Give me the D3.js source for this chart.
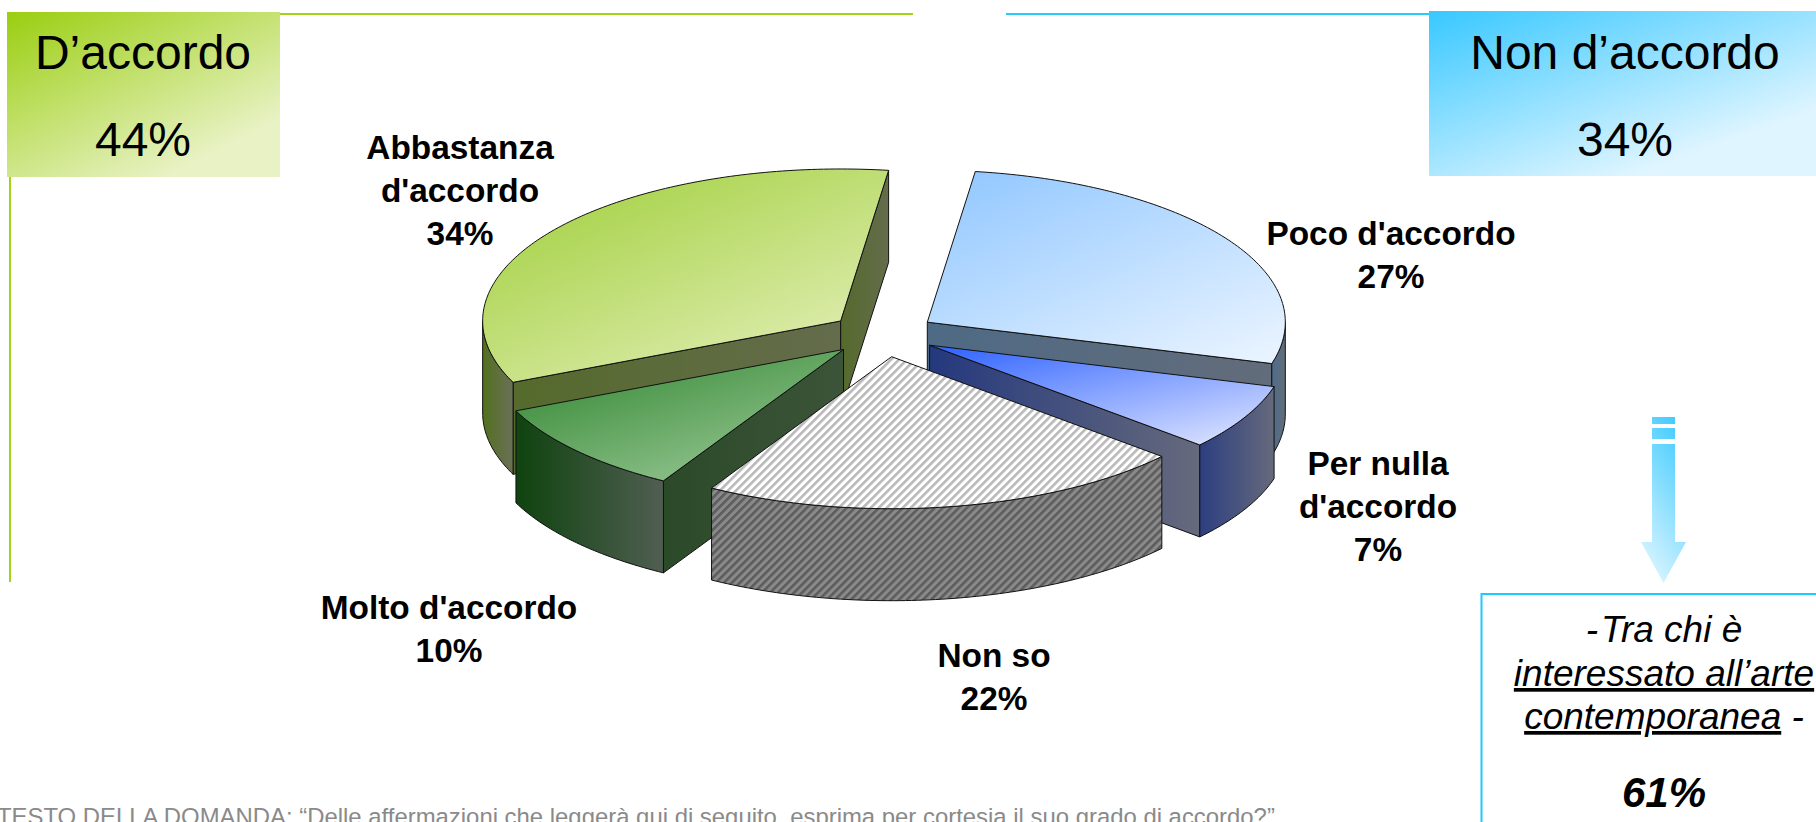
<!DOCTYPE html>
<html><head><meta charset="utf-8">
<script src="https://cdn.jsdelivr.net/npm/d3@7"></script>
<style>
html,body{margin:0;padding:0;background:#fff;overflow:hidden}
svg{display:block}
text{font-family:"Liberation Sans",Arial,sans-serif;fill:#000}
</style></head><body>
<svg id="c" width="1816" height="822"></svg>
<script>
const categories = ["Poco d'accordo","Per nulla d'accordo","Non so","Molto d'accordo","Abbastanza d'accordo"];
const values = [27.25,7,22,10,33.75];
const labelLines = [["Poco d'accordo"],["Per nulla","d'accordo"],["Non so"],["Molto d'accordo"],["Abbastanza","d'accordo"]];
const labelAnchors = [[1391,245],[1378,475],[994,667],[449,619],[460,159]];
const topColors = [["#93c8ff","#e8f3ff"],["#3567ff","#dde4ff"],null,["#2f852f","#a0cc9c"],["#a0cf3c","#e6f0bd"]];
const rimColors = [["#4f6d8c","#626c7a"],["#2c3e80","#666a7c"],null,["#0f430f","#505e52"],["#53701e","#6a7058"]];
const radialColors = [["#4f6a85","#626c7a"],["#24387e","#666a7c"],null,["#2b4a28","#3c5439"],["#556a2c","#646c4c"]];
const headerLeft = ["D’accordo","44%"];
const headerRight = ["Non d’accordo","34%"];

const CX=883, CY=334.5, RX=358, RY=152, DEPTH=92, EXPLODE=0.148;
const svg=d3.select("#c");
const defs=svg.append("defs");

function grad(id,c0,c1,x1,y1,x2,y2){
  const g=defs.append("linearGradient").attr("id",id).attr("x1",x1).attr("y1",y1).attr("x2",x2).attr("y2",y2);
  g.append("stop").attr("offset",0).attr("stop-color",c0);
  g.append("stop").attr("offset",1).attr("stop-color",c1);
  return `url(#${id})`;
}
function hatch(id,bg,fg){
  const p=defs.append("pattern").attr("id",id).attr("patternUnits","userSpaceOnUse")
    .attr("width",5.66).attr("height",5.66).attr("patternTransform","rotate(45)");
  p.append("rect").attr("width",5.66).attr("height",5.66).attr("fill",bg);
  p.append("rect").attr("width",2.6).attr("height",5.66).attr("fill",fg);
  return `url(#${id})`;
}

// frames and header boxes
svg.append("rect").attr("x",277).attr("y",13).attr("width",636).attr("height",2).attr("fill","#a3d316");
svg.append("rect").attr("x",9).attr("y",173).attr("width",2).attr("height",409).attr("fill","#a3d316");
svg.append("rect").attr("x",1006).attr("y",13).attr("width",425).attr("height",2).attr("fill","#28ccfb");
svg.append("rect").attr("x",7).attr("y",12).attr("width",273).attr("height",165)
  .attr("fill",grad("gl","#9ace10","#e8f2c4","0%","0%","72%","88%"));
svg.append("rect").attr("x",1429).attr("y",11).attr("width",387).attr("height",165)
  .attr("fill",grad("gr","#38c8ff","#dff5ff","0%","0%","70%","85%"));

function headerText(lines,x){
  svg.append("text").attr("x",x).attr("y",69).attr("text-anchor","middle").attr("font-size",48).text(lines[0]);
  svg.append("text").attr("x",x).attr("y",156).attr("text-anchor","middle").attr("font-size",48).text(lines[1]);
}
headerText(headerLeft,143);
headerText(headerRight,1625);

// pie
const pie=d3.pie().sort(null).startAngle(7.7*Math.PI/180).endAngle((360+7.7)*Math.PI/180);
const arcs=pie(values).map((d,i)=>({...d,i,t0:d.startAngle-Math.PI/2,t1:d.endAngle-Math.PI/2}));
arcs.forEach(d=>{
  const m=(d.t0+d.t1)/2;
  d.mid=m;
  d.cx=CX+EXPLODE*RX*Math.cos(m);
  d.cy=CY+EXPLODE*RY*Math.sin(m);
});
const line=d3.line();
const xAt=(d,t)=>d.cx+RX*Math.cos(t);
const yAt=(d,t)=>d.cy+RY*Math.sin(t);
const sample=(a,b)=>{const n=Math.max(2,Math.ceil(Math.abs(b-a)*60));return d3.range(n+1).map(k=>a+(b-a)*k/n);};

const hatchTop=hatch("ht","#ffffff","#b8b8b8");
const hatchWall=hatch("hw","#8a8a8a","#5c5c5c");

arcs.slice().sort((a,b)=>Math.sin(a.mid)-Math.sin(b.mid)).forEach(d=>{
  const g=svg.append("g").attr("class","slice").attr("data-cat",categories[d.i]);
  const tc=topColors[d.i];
  const rf=rimColors[d.i]?grad("rim"+d.i,rimColors[d.i][0],rimColors[d.i][1],"0%","0%","100%","0%"):hatchWall;
  const wf=radialColors[d.i]?grad("rad"+d.i,radialColors[d.i][0],radialColors[d.i][1],"0%","0%","100%","0%"):hatchWall;
  const radial=t=>{
    const pts=[[d.cx,d.cy],[xAt(d,t),yAt(d,t)],[xAt(d,t),yAt(d,t)+DEPTH],[d.cx,d.cy+DEPTH]];
    g.append("path").attr("d",line(pts)+"Z").attr("fill",wf).attr("stroke","#111").attr("stroke-width",1);
  };
  if(Math.cos(d.t0)<0) radial(d.t0);
  if(Math.cos(d.t1)>0) radial(d.t1);
  // outer wall: only the front half of the rim is in view
  const a=Math.max(d.t0,0), b=Math.min(d.t1,Math.PI);
  if(b>a){
    const s=sample(a,b);
    const pts=s.map(t=>[xAt(d,t),yAt(d,t)]).concat(s.slice().reverse().map(t=>[xAt(d,t),yAt(d,t)+DEPTH]));
    g.append("path").attr("d",line(pts)+"Z").attr("fill",rf).attr("stroke","#111").attr("stroke-width",1);
  }
  // top face
  const tf=tc?grad("tf"+d.i,tc[0],tc[1],"10%","0%","90%","100%"):hatchTop;
  const s=sample(d.t0,d.t1);
  const pts=[[d.cx,d.cy]].concat(s.map(t=>[xAt(d,t),yAt(d,t)]));
  g.append("path").attr("d",line(pts)+"Z").attr("fill",tf).attr("stroke","#111").attr("stroke-width",1).attr("stroke-linejoin","round");
});

// data labels
const fmt=v=>Math.round(v)+"%";
arcs.forEach(d=>{
  const [ax,ay]=labelAnchors[d.i];
  const lines=labelLines[d.i].concat(fmt(values[d.i]));
  lines.forEach((l,k)=>{
    svg.append("text").attr("x",ax).attr("y",ay+k*43).attr("text-anchor","middle")
      .attr("font-size",33.4).attr("font-weight",700).text(l);
  });
});

// arrow
const arrowG=grad("ga","#45ccff","#dbf5ff","70%","0%","30%","100%");
const ag=svg.append("g").attr("fill",arrowG);
ag.append("path").attr("d","M1652,417H1675V424H1652Z M1652,428H1675V439H1652Z M1652,444H1675V542H1686L1663.5,583L1641,542H1652Z");

// callout box
svg.append("path").attr("d","M1817,594H1481.5V823").attr("fill","none").attr("stroke","#1ccbfb").attr("stroke-width",2);
const cx=1664;
const t1=svg.append("text").attr("x",cx).attr("y",642).attr("text-anchor","middle").attr("font-size",37).attr("font-style","italic");
t1.append("tspan").text("-");
t1.append("tspan").attr("dx",3).text("Tra chi è");
svg.append("text").attr("x",cx).attr("y",686).attr("text-anchor","middle").attr("font-size",37).attr("font-style","italic")
  .attr("text-decoration","underline").text("interessato all’arte");
const t3=svg.append("text").attr("x",cx).attr("y",729).attr("text-anchor","middle").attr("font-size",37).attr("font-style","italic");
t3.append("tspan").attr("text-decoration","underline").text("contemporanea");
t3.append("tspan").text(" -");
svg.append("text").attr("x",cx).attr("y",807).attr("text-anchor","middle").attr("font-size",42).attr("font-style","italic").attr("font-weight",700).text("61%");

// footnote
svg.append("text").attr("x",-3).attr("y",825).attr("font-size",23.9).style("fill","#8a8a8a")
  .text("TESTO DELLA DOMANDA: “Delle affermazioni che leggerà qui di seguito, esprima per cortesia il suo grado di accordo?”");
</script>
</body></html>
